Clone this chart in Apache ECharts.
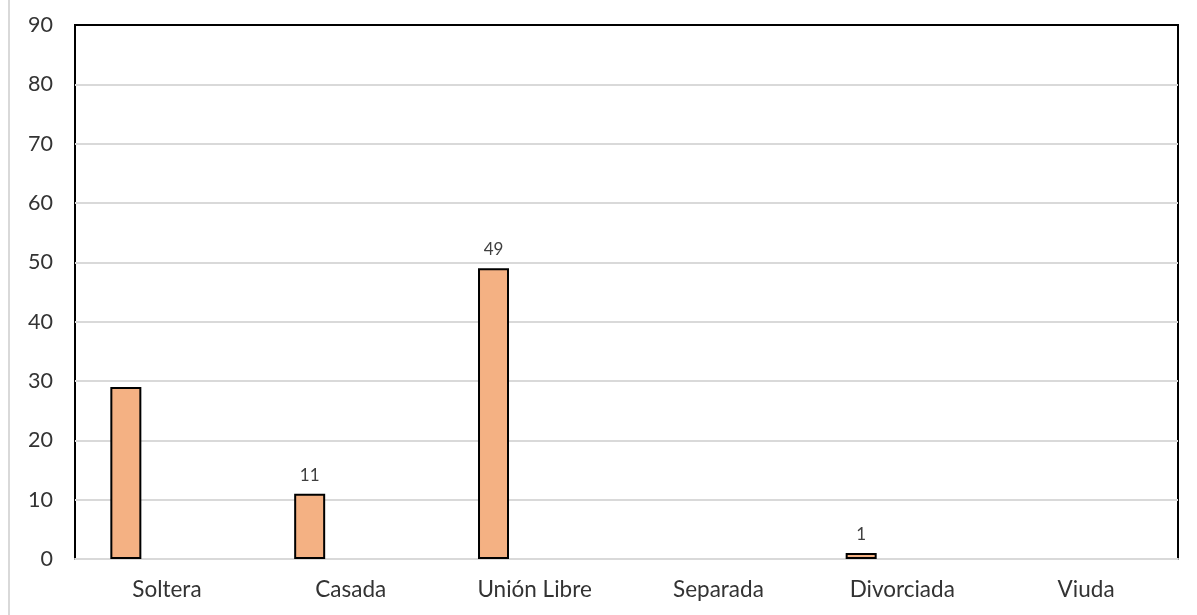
<!DOCTYPE html>
<html>
<head>
<meta charset="utf-8">
<script src="https://cdn.jsdelivr.net/npm/echarts@6/dist/echarts.min.js"></script>
<style>
  html, body { margin: 0; padding: 0; background: #fff; }
  #wrap { position: relative; width: 1197px; height: 615px; }
  #edge { position: absolute; left: 8px; top: 0; width: 2px; height: 615px; background: #d9d9d9; }
  #chart { position: absolute; left: 0; top: 0; width: 1197px; height: 615px; }
</style>
</head>
<body>
<div id="wrap">
  <div id="edge"></div>
  <div id="chart"></div>
</div>
<script>
const categories = ['Soltera', 'Casada', 'Unión Libre', 'Separada', 'Divorciada', 'Viuda'];
const values = [29, 11, 49, 0, 1, 0];
const showLabel = [false, true, true, false, true, false];
const yTicks = { min: 0, max: 90, interval: 10 };

const chart = echarts.init(document.getElementById('chart'));
const font = 'Lato, "Liberation Sans", sans-serif';

const barData = values.map((v, i) => ({
  value: v === 0 ? '-' : v,
  label: { show: showLabel[i] }
}));

chart.setOption({
  animation: false,
  grid: {
    left: 75, right: 19, top: 25, bottom: 56,
    show: true, borderColor: '#000', borderWidth: 2, backgroundColor: 'transparent'
  },
  xAxis: [
    {
      type: 'category',
      data: categories,
      axisLine: { lineStyle: { color: '#d9d9d9', width: 2 } },
      axisTick: { show: false },
      axisLabel: { color: '#333', fontSize: 22.5, fontFamily: font, margin: 19 }
    },
    {
      // top frame edge, drawn over the 90 gridline
      type: 'category',
      position: 'top',
      data: categories,
      axisLine: { lineStyle: { color: '#000', width: 2 } },
      axisTick: { show: false },
      axisLabel: { show: false }
    }
  ],
  yAxis: {
    type: 'value',
    min: yTicks.min, max: yTicks.max, interval: yTicks.interval,
    axisLine: { show: false },
    axisTick: { show: false },
    axisLabel: { color: '#333', fontSize: 21.5, fontFamily: font, margin: 22 },
    splitLine: { lineStyle: { color: '#d9d9d9', width: 2 } }
  },
  series: [
    {
      type: 'bar',
      data: barData,
      barWidth: 31,
      barGap: '165%',
      itemStyle: { color: '#F4B183', borderColor: '#000', borderWidth: 2 },
      label: { position: 'top', distance: 10, color: '#404040', fontSize: 17, fontFamily: font }
    },
    {
      type: 'bar',
      data: values.map(() => '-'),
      barWidth: 31
    }
  ]
});
</script>
</body>
</html>
